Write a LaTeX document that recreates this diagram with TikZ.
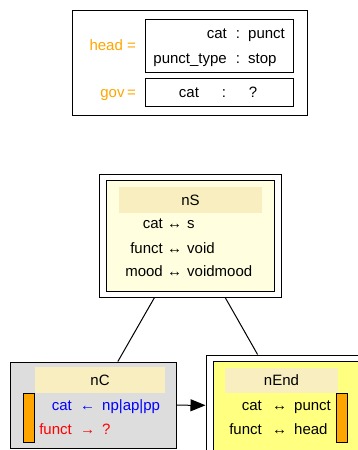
\documentclass[tikz,border=0pt]{standalone}
\usepackage{fontspec}
\setmainfont{Liberation Sans}
\usetikzlibrary{arrows.meta}
\definecolor{hdrband}{RGB}{248,238,192}
\definecolor{paleyel}{RGB}{255,255,224}
\definecolor{brightyel}{RGB}{255,255,128}
\definecolor{nodegray}{RGB}{221,221,221}
\definecolor{featorange}{RGB}{255,165,0}

\begin{document}
\begin{tikzpicture}[x=1pt, y=-1pt, font=\fontsize{15}{18}\selectfont,
	box/.style={draw, line width=1pt, inner sep=0pt},
	band/.style={fill=hdrband, inner sep=0pt, text height=11pt, text depth=1pt},
	bar/.style={draw, line width=1pt, fill=featorange, inner sep=0pt, minimum width=11pt, minimum height=49pt},
	txt/.style={inner sep=0pt, text height=11pt, text depth=1pt}]
	\useasboundingbox (0,0) rectangle (358,450);
	% feature structure
	\node[box, minimum width=235pt, minimum height=105pt] (avm) at (189.5,62.5) {};
	\node[box, minimum width=148pt, minimum height=53pt] (headbox) at (219,45.5) {};
	\node[box, minimum width=148pt, minimum height=28pt] (govbox) at (219,92) {};
	\node[txt, featorange, anchor=east] (headlbl) at (136,45) {head =};
	\node[txt, featorange, anchor=east] (govlbl) at (136,92) {gov\,=};
	\foreach \y/\f/\v [count=\i] in {33/cat/punct, 58/punct\_type/stop} {
		\node[txt, anchor=east] (hf\i) at (227,\y) {\f};
		\node[txt] (hc\i) at (238,\y) {:};
		\node[txt, anchor=west] (hv\i) at (248,\y) {\v};
	}
	\node[txt] (gf) at (189,92) {cat};
	\node[txt] (gc) at (224,92) {:};
	\node[txt] (gv) at (253,92) {?};
	% nS
	\node[box, fill=white, minimum width=182pt, minimum height=123pt] (nS) at (190,235.5) {};
	\node[box, fill=paleyel, minimum width=168pt, minimum height=111pt] (nSin) at (190,235.5) {};
	\node[band, minimum width=143pt, minimum height=26pt] (nShdr) at (190.5,200) {nS};
	\foreach \y/\f/\v [count=\i] in {223/cat/s, 248/funct/void, 271/mood/voidmood} {
		\node[txt, anchor=east] (nSf\i) at (163,\y) {\f};
		\node[txt] (nSa\i) at (174.5,\y) {↔};
		\node[txt, anchor=west] (nSv\i) at (187,\y) {\v};
	}
	% nC
	\node[box, fill=nodegray, minimum width=166pt, minimum height=86pt] (nC) at (93,405) {};
	\node[band, minimum width=130pt, minimum height=26pt] (nChdr) at (100,380) {nC};
	\node[bar] (nCbar) at (29,417.5) {};
	\node[txt, blue, anchor=east] (nCf1) at (72,405) {cat};
	\node[txt, blue] (nCa1) at (87.5,405) {←};
	\node[txt, blue, anchor=west] (nCv1) at (102,405) {np|ap|pp};
	\node[txt, red, anchor=east] (nCf2) at (72,429) {funct};
	\node[txt, red] (nCa2) at (87.5,429) {→};
	\node[txt, red, anchor=west] (nCv2) at (102,429) {?};
	% nEnd
	\node[box, fill=white, minimum width=161pt, minimum height=101pt] (nEnd) at (286.5,405.5) {};
	\node[box, fill=brightyel, minimum width=147pt, minimum height=89pt] (nEndin) at (286.5,405.5) {};
	\node[band, minimum width=113pt, minimum height=25pt] (nEndhdr) at (281.5,380.5) {nEnd};
	\node[bar] (nEndbar) at (342,417.5) {};
	\foreach \y/\f/\v [count=\i] in {405/cat/punct, 429/funct/head} {
		\node[txt, anchor=east] (nEf\i) at (262,\y) {\f};
		\node[txt] (nEa\i) at (279.5,\y) {↔};
		\node[txt, anchor=west] (nEv\i) at (294,\y) {\v};
	}
	% edges
	\draw[line width=1pt] (nS) -- (nC);
	\draw[line width=1pt] (nS) -- (nEnd);
	\draw[line width=1pt, -{Triangle[length=15pt, width=12pt]}] (nC) -- (nEnd);
\end{tikzpicture}
\end{document}
